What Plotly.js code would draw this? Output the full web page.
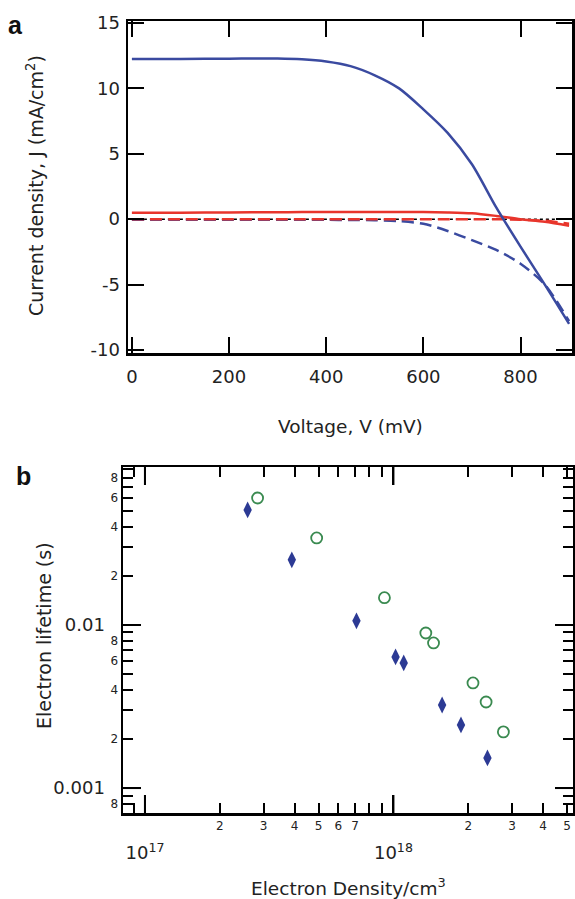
<!DOCTYPE html>
<html><head><meta charset="utf-8">
<script src="https://cdn.plot.ly/plotly-3.0.1.min.js"></script>
<style>html,body{margin:0;padding:0;background:#fff}</style>
</head><body><div id="chart" style="width:575px;height:899px"></div>
<script>
// ---- Panel a: J-V curves ----
const voltage   = [0,100,200,300,350,400,450,500,550,600,650,700,750,800,850,900];
const blueLight = [12.25,12.25,12.27,12.28,12.22,12.05,11.7,11.0,10.0,8.4,6.6,4.2,0.9,-2.1,-5.0,-8.0];
const blueDark  = [-0.05,-0.05,-0.05,-0.05,-0.05,-0.05,-0.06,-0.08,-0.15,-0.35,-0.9,-1.6,-2.35,-3.4,-5.0,-7.8];
const redLight  = [0.5,0.5,0.52,0.53,0.54,0.55,0.55,0.55,0.55,0.55,0.52,0.45,0.25,0.0,-0.2,-0.5];
const redDark   = [0,0,0,0,0,0,0,0,0,0,0,0,0,-0.05,-0.12,-0.35];
const zeroV = [0, 900];
const zeroJ = [0, 0];
const voltTicks = [0,200,400,600,800];
const jTicks = [-10,-5,0,5,10,15];
const jTickText = ['-10','-5','0','5','10','15'];

// ---- Panel b: electron lifetime vs density ----
const densDiamond = [2.59e17,3.9e17,7.1e17,1.02e18,1.1e18,1.57e18,1.87e18,2.39e18];
const lifeDiamond = [0.0508,0.0251,0.0106,0.00637,0.00585,0.00323,0.00244,0.00153];
const densCircle  = [2.84e17,4.91e17,9.2e17,1.35e18,1.45e18,2.09e18,2.36e18,2.77e18];
const lifeCircle  = [0.0601,0.0342,0.0147,0.00893,0.00776,0.00441,0.00337,0.00221];

const densMinorVals = [9e16,1e17,2e17,3e17,4e17,5e17,6e17,7e17,8e17,9e17,1e18,2e18,3e18,4e18,5e18];
const densMinorText = ['','','2','3','4','5','6','7','','','','2','3','4','5'];
const densMajorVals = [1e17,1e18];
const densMajorText = ['10<sup>17</sup>','10<sup>18</sup>'];
const lifeMinorVals = [8e-4,9e-4,1e-3,2e-3,3e-3,4e-3,5e-3,6e-3,7e-3,8e-3,9e-3,1e-2,2e-2,3e-2,4e-2,5e-2,6e-2,7e-2,8e-2,9e-2];
const lifeMinorText = ['8','','','2','','4','','6','','8','','','2','','4','','6','','8',''];
const lifeMajorVals = [1e-3,1e-2];
const lifeMajorText = ['0.001','0.01'];

const W = 575, H = 899;
const px = v => v / W;
const py = v => 1 - v / H;
const FONT = 'DejaVu Sans, sans-serif';
const BLUE = '#3a4aa0', RED = '#e8352c';

const traces = [
  {x: zeroV, y: zeroJ, mode:'lines', line:{color:'#000', width:1.5, dash:'dot'}, xaxis:'x', yaxis:'y'},
  {x: voltage, y: blueDark, mode:'lines', line:{color:BLUE, width:2.5, dash:'12px,6px', shape:'spline', smoothing:0.8}, xaxis:'x', yaxis:'y'},
  {x: voltage, y: redDark, mode:'lines', line:{color:RED, width:2.5, dash:'12px,6px', shape:'spline', smoothing:0.8}, xaxis:'x', yaxis:'y'},
  {x: voltage, y: redLight, mode:'lines', line:{color:RED, width:2.5, shape:'spline', smoothing:0.8}, xaxis:'x', yaxis:'y'},
  {x: voltage, y: blueLight, mode:'lines', line:{color:BLUE, width:2.5, shape:'spline', smoothing:0.8}, xaxis:'x', yaxis:'y'},
  // invisible carrier for the major-label axes pair (x4/y4), same frame as panel b
  {x: densCircle, y: lifeCircle, mode:'markers', marker:{size:1, opacity:0}, hoverinfo:'skip', xaxis:'x4', yaxis:'y4'},
  {x: densDiamond, y: lifeDiamond, mode:'markers', marker:{symbol:'diamond-tall', size:12, color:'#2c3a94', line:{width:0}}, xaxis:'x2', yaxis:'y2'},
  {x: densCircle, y: lifeCircle, mode:'markers', marker:{symbol:'circle-open', size:11, color:'#3a8a50', line:{width:1.8}}, xaxis:'x2', yaxis:'y2'}
];

const axBase = () => ({showline:true, linecolor:'#000', linewidth:2.5, ticks:'inside', tickcolor:'#000', tickwidth:2,
  mirror:'allticks', showgrid:false, zeroline:false, tickfont:{family:FONT, size:18, color:'#222'}});

const xbRange = [Math.log10(8.16e16), Math.log10(5.28e18)];
const ybRange = [Math.log10(7.03e-4), Math.log10(0.0931)];
const xbDomain = [px(123), px(573)];
const ybDomain = [py(813), py(467)];

// long major tick marks for panel b, placed through the axes from the major tick values
const MAJ = 18;
const fx = MAJ / 450, fy = MAJ / 346;
const tickLine = {color:'#000', width:2};
const majorShapes = [];
densMajorVals.forEach(v => {
  majorShapes.push({type:'line', xref:'x2', yref:'y2 domain', x0:v, x1:v, y0:0, y1:fy, line:tickLine});
  majorShapes.push({type:'line', xref:'x2', yref:'y2 domain', x0:v, x1:v, y0:1 - fy, y1:1, line:tickLine});
});
lifeMajorVals.forEach(v => {
  majorShapes.push({type:'line', xref:'x2 domain', yref:'y2', x0:0, x1:fx, y0:v, y1:v, line:tickLine});
  majorShapes.push({type:'line', xref:'x2 domain', yref:'y2', x0:1 - fx, x1:1, y0:v, y1:v, line:tickLine});
});

const layout = {
  width: W, height: H, margin:{l:0,r:0,t:0,b:0}, showlegend:false,
  paper_bgcolor:'#fff', plot_bgcolor:'rgba(0,0,0,0)', font:{family:FONT, color:'#222'},
  xaxis: Object.assign(axBase(), {domain:[px(128), px(572)], anchor:'y', range:[-8, 906],
    tickmode:'array', tickvals: voltTicks, ticklen:16, ticklabelstandoff:6}),
  yaxis: Object.assign(axBase(), {domain:[py(353), py(21)], anchor:'x', range:[-10.23, 15.15],
    tickmode:'array', tickvals: jTicks, ticktext: jTickText, ticklen:16, ticklabelstandoff:2}),
  xaxis2: Object.assign(axBase(), {domain: xbDomain, anchor:'y2', type:'log', range: xbRange,
    tickmode:'array', tickvals: densMinorVals, ticktext: densMinorText,
    ticklen:10, tickfont:{family:FONT, size:12, color:'#222'}}),
  yaxis2: Object.assign(axBase(), {domain: ybDomain, anchor:'x2', type:'log', range: ybRange,
    tickmode:'array', tickvals: lifeMinorVals, ticktext: lifeMinorText,
    ticklen:10, tickfont:{family:FONT, size:12, color:'#222'}}),
  xaxis4: Object.assign(axBase(), {domain: xbDomain, anchor:'y4', type:'log', range: xbRange,
    tickmode:'array', tickvals: densMajorVals, ticktext: densMajorText, side:'bottom',
    ticklen:18, ticklabelstandoff: 22}),
  yaxis4: Object.assign(axBase(), {domain: ybDomain, anchor:'x4', type:'log', range: ybRange,
    tickmode:'array', tickvals: lifeMajorVals, ticktext: lifeMajorText, side:'left',
    ticklen:18, ticklabelstandoff: 12}),
  shapes: majorShapes,
  annotations: [
    {text:'<b>a</b>', x:px(6), y:py(25), xref:'paper', yref:'paper', xanchor:'left', yanchor:'middle', showarrow:false, font:{family:'Liberation Sans, Arial, sans-serif', size:25, color:'#111'}},
    {text:'<b>b</b>', x:px(14), y:py(476), xref:'paper', yref:'paper', xanchor:'left', yanchor:'middle', showarrow:false, font:{family:'Liberation Sans, Arial, sans-serif', size:25, color:'#111'}},
    {text:'Current density, J (mA/cm<sup>2</sup>)', x:px(35), y:py(186), xref:'paper', yref:'paper', xanchor:'center', yanchor:'middle', textangle:-90, showarrow:false, font:{family:FONT, size:19, color:'#222'}},
    {text:'Voltage, V (mV)', x:px(350), y:py(426), xref:'paper', yref:'paper', xanchor:'center', yanchor:'middle', showarrow:false, font:{family:FONT, size:18.5, color:'#222'}},
    {text:'Electron lifetime (s)', x:px(44), y:py(636), xref:'paper', yref:'paper', xanchor:'center', yanchor:'middle', textangle:-90, showarrow:false, font:{family:FONT, size:19, color:'#222'}},
    {text:'Electron Density/cm<sup>3</sup>', x:px(348), y:py(887), xref:'paper', yref:'paper', xanchor:'center', yanchor:'middle', showarrow:false, font:{family:FONT, size:18.5, color:'#222'}}
  ]
};

Plotly.newPlot('chart', traces, layout, {displayModeBar:false, staticPlot:true});
</script></body></html>
